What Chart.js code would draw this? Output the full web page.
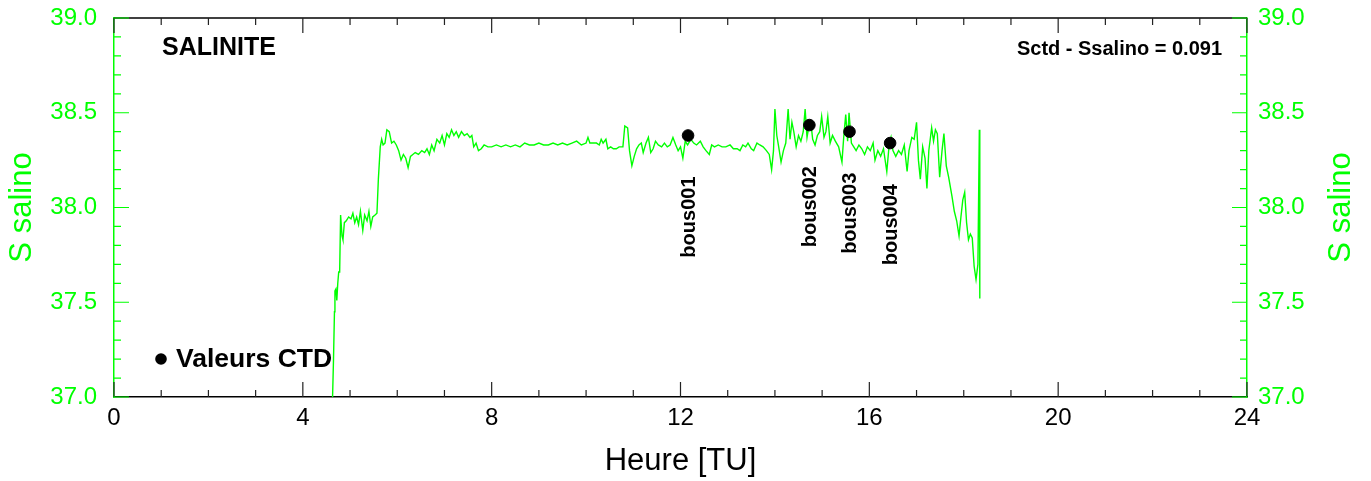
<!DOCTYPE html>
<html>
<head>
    <title>SALINITE</title>
    <script src="https://cdn.jsdelivr.net/npm/chart.js"></script>
    <style>
        html, body { margin: 0; padding: 0; background: #fff; }
        .container { width: 1371px; height: 481px; position: relative; }
    </style>
</head>
<body>
    <div class="container">
        <canvas id="salChart"></canvas>
    </div>

    <script>
        // thermosalinograph track (hour, salinity)
        const hours = [
            4.63, 4.65, 4.67, 4.68, 4.70, 4.72, 4.74, 4.76, 4.78, 4.80, 4.83, 4.85, 4.88, 4.92, 4.97,
            5.02, 5.06, 5.10, 5.14, 5.18, 5.22, 5.27, 5.31, 5.36, 5.40, 5.44, 5.48, 5.53, 5.57, 5.60,
            5.64, 5.67, 5.70, 5.74, 5.78, 5.83, 5.88, 5.93, 5.98, 6.03, 6.08, 6.13, 6.18, 6.23, 6.28,
            6.33, 6.38, 6.45, 6.52, 6.58, 6.63, 6.68, 6.73, 6.78, 6.84, 6.90, 6.95, 7.00, 7.05, 7.10,
            7.15, 7.20, 7.25, 7.30, 7.36, 7.42, 7.48, 7.54, 7.58, 7.62, 7.67, 7.72, 7.78, 7.84, 7.92,
            8.00, 8.10, 8.20, 8.30, 8.40, 8.50, 8.60, 8.70, 8.80, 8.90, 9.00, 9.10, 9.20, 9.30, 9.40,
            9.50, 9.60, 9.70, 9.80, 9.90, 10.00, 10.04, 10.08, 10.15, 10.22, 10.28, 10.32, 10.36, 10.42, 10.46,
            10.52, 10.58, 10.64, 10.70, 10.78, 10.82, 10.88, 10.92, 10.97, 11.02, 11.07, 11.12, 11.17, 11.21, 11.27,
            11.32, 11.37, 11.42, 11.47, 11.53, 11.60, 11.66, 11.72, 11.78, 11.84, 11.90, 11.95, 12.00, 12.05, 12.10,
            12.15, 12.22, 12.28, 12.34, 12.42, 12.48, 12.54, 12.61, 12.66, 12.72, 12.80, 12.88, 12.96, 13.05, 13.12,
            13.20, 13.26, 13.32, 13.38, 13.43, 13.50, 13.55, 13.62, 13.68, 13.75, 13.82, 13.88, 13.93, 13.97, 14.00,
            14.04, 14.08, 14.13, 14.18, 14.23, 14.28, 14.32, 14.36, 14.40, 14.45, 14.50, 14.55, 14.60, 14.64, 14.68,
            14.72, 14.76, 14.80, 14.85, 14.90, 14.95, 14.99, 15.04, 15.08, 15.12, 15.17, 15.22, 15.28, 15.35, 15.42,
            15.46, 15.50, 15.54, 15.57, 15.62, 15.67, 15.72, 15.78, 15.84, 15.90, 15.96, 16.02, 16.08, 16.12, 16.18,
            16.24, 16.30, 16.37, 16.42, 16.46, 16.50, 16.56, 16.62, 16.68, 16.74, 16.80, 16.84, 16.90, 16.95, 17.00,
            17.04, 17.08, 17.13, 17.18, 17.22, 17.26, 17.32, 17.36, 17.40, 17.44, 17.49, 17.54, 17.58, 17.63, 17.68,
            17.75, 17.80, 17.85, 17.90, 17.94, 17.98, 18.02, 18.06, 18.10, 18.14, 18.18, 18.22, 18.26, 18.30, 18.33,
            18.34
        ];
        const salinity = [
            37.00, 37.20, 37.45, 37.56, 37.57, 37.51, 37.60, 37.66, 37.66, 37.96, 37.85, 37.83, 37.92, 37.93, 37.95,
            37.94, 37.97, 37.92, 37.95, 37.91, 37.98, 37.88, 37.96, 37.93, 37.98, 37.90, 37.95, 37.96, 37.97, 38.15,
            38.32, 38.36, 38.33, 38.34, 38.41, 38.40, 38.34, 38.35, 38.33, 38.30, 38.25, 38.28, 38.26, 38.21, 38.27,
            38.28, 38.29, 38.28, 38.30, 38.29, 38.31, 38.28, 38.33, 38.30, 38.36, 38.34, 38.38, 38.33, 38.39, 38.37,
            38.41, 38.38, 38.40, 38.37, 38.40, 38.38, 38.39, 38.37, 38.38, 38.32, 38.34, 38.30, 38.31, 38.33, 38.32,
            38.32, 38.33, 38.32, 38.33, 38.32, 38.33, 38.32, 38.34, 38.33, 38.33, 38.34, 38.33, 38.33, 38.34, 38.33,
            38.34, 38.33, 38.34, 38.35, 38.33, 38.34, 38.37, 38.34, 38.34, 38.34, 38.33, 38.36, 38.34, 38.36, 38.31,
            38.32, 38.31, 38.31, 38.32, 38.32, 38.43, 38.42, 38.30, 38.22, 38.27, 38.31, 38.33, 38.34, 38.29, 38.34,
            38.37, 38.29, 38.31, 38.35, 38.33, 38.32, 38.34, 38.32, 38.33, 38.37, 38.33, 38.30, 38.32, 38.26, 38.35,
            38.33, 38.36, 38.34, 38.33, 38.35, 38.32, 38.30, 38.28, 38.33, 38.32, 38.33, 38.32, 38.32, 38.33, 38.31,
            38.31, 38.30, 38.33, 38.32, 38.34, 38.31, 38.30, 38.34, 38.33, 38.32, 38.30, 38.28, 38.20, 38.30, 38.52,
            38.38, 38.32, 38.24, 38.30, 38.34, 38.52, 38.36, 38.45, 38.40, 38.32, 38.38, 38.35, 38.40, 38.52, 38.37,
            38.43, 38.45, 38.36, 38.33, 38.38, 38.40, 38.48, 38.37, 38.40, 38.48, 38.34, 38.38, 38.35, 38.32, 38.24,
            38.38, 38.49, 38.35, 38.50, 38.34, 38.32, 38.30, 38.33, 38.31, 38.28, 38.32, 38.30, 38.34, 38.25, 38.30,
            38.27, 38.31, 38.19, 38.33, 38.37, 38.30, 38.27, 38.30, 38.28, 38.33, 38.19, 38.30, 38.37, 38.36, 38.45,
            38.25, 38.15, 38.32, 38.26, 38.10, 38.30, 38.42, 38.35, 38.41, 38.39, 38.16, 38.30, 38.39, 38.22, 38.16,
            38.06, 37.98, 37.93, 37.85, 37.95, 38.04, 38.08, 37.92, 37.83, 37.86, 37.84, 37.69, 37.62, 37.70, 38.41,
            37.52
        ];

        // CTD stations
        const ctdLabels = ['bous001', 'bous002', 'bous003', 'bous004'];
        const ctdHours = [12.16, 14.73, 15.58, 16.44];
        const ctdValues = [38.38, 38.435, 38.40, 38.34];

        const xTicks = [0, 4, 8, 12, 16, 20, 24];
        const yTicks = [37.0, 37.5, 38.0, 38.5, 39.0];

        const GREEN = '#00ff00';
        const FONT = "'Liberation Sans', Arial, Helvetica, sans-serif";

        const framePlugin = {
            id: 'frame',
            afterDraw(chart) {
                const ctx = chart.ctx;
                const area = chart.chartArea;
                const xs = chart.scales.x;
                const ys = chart.scales.y;
                ctx.save();

                // top border
                ctx.strokeStyle = '#000';
                ctx.lineWidth = 1.5;
                ctx.beginPath();
                ctx.moveTo(area.left, area.top);
                ctx.lineTo(area.right, area.top);
                ctx.stroke();

                // inward ticks on x (bottom and top)
                ctx.strokeStyle = '#222';
                ctx.lineWidth = 1.2;
                for (let h = 0; h <= 24; h++) {
                    const px = xs.getPixelForValue(h);
                    const len = h % 4 === 0 ? 15 : 7;
                    ctx.beginPath();
                    ctx.moveTo(px, area.bottom);
                    ctx.lineTo(px, area.bottom - len);
                    ctx.moveTo(px, area.top);
                    ctx.lineTo(px, area.top + len);
                    ctx.stroke();
                }

                // inward ticks on y (left and right)
                ctx.strokeStyle = GREEN;
                for (let i = 0; i <= 20; i++) {
                    const py = ys.getPixelForValue(37 + i * 0.1);
                    const len = i % 5 === 0 ? 15 : 7;
                    ctx.beginPath();
                    ctx.moveTo(area.left, py);
                    ctx.lineTo(area.left + len, py);
                    ctx.moveTo(area.right, py);
                    ctx.lineTo(area.right - len, py);
                    ctx.stroke();
                }

                // station names under the CTD dots
                ctx.fillStyle = '#000';
                ctx.font = 'bold 20px ' + FONT;
                ctx.textAlign = 'right';
                ctx.textBaseline = 'middle';
                ctdLabels.forEach((name, i) => {
                    const px = xs.getPixelForValue(ctdHours[i]) + 1;
                    const py = ys.getPixelForValue(ctdValues[i]) + 41;
                    ctx.save();
                    ctx.translate(px, py);
                    ctx.rotate(-Math.PI / 2);
                    ctx.fillText(name, 0, 0);
                    ctx.restore();
                });

                // titles and annotation
                ctx.textAlign = 'left';
                ctx.font = 'bold 25px ' + FONT;
                ctx.fillText('SALINITE', area.left + 48, area.top + 30);
                ctx.textAlign = 'right';
                ctx.font = 'bold 20px ' + FONT;
                ctx.fillText('Sctd - Ssalino = 0.091', area.right - 25, area.top + 31);

                // legend
                ctx.beginPath();
                ctx.arc(area.left + 47, area.bottom - 38, 5.8, 0, Math.PI * 2);
                ctx.fill();
                ctx.textAlign = 'left';
                ctx.font = 'bold 26.5px ' + FONT;
                ctx.fillText('Valeurs CTD', area.left + 62, area.bottom - 37);

                // right axis title (reads upward like the left one)
                ctx.fillStyle = GREEN;
                ctx.font = '31px ' + FONT;
                ctx.textAlign = 'center';
                ctx.save();
                ctx.translate(chart.width - 30, (area.top + area.bottom) / 2);
                ctx.rotate(-Math.PI / 2);
                ctx.fillText('S salino', 0, 0);
                ctx.restore();

                ctx.restore();
            }
        };

        function yAxis(position, width, pad) {
            return {
                type: 'linear',
                position: position,
                min: 37,
                max: 39,
                afterBuildTicks: scale => { scale.ticks = yTicks.map(v => ({ value: v })); },
                afterFit: scale => {
                    scale.width = width;
                    scale.paddingTop = 0;
                    scale.paddingBottom = 0;
                },
                grid: { display: false, drawTicks: false },
                border: { display: true, color: GREEN, width: 1.5 },
                ticks: {
                    color: GREEN,
                    padding: pad,
                    font: { family: FONT, size: 24 },
                    callback: v => v.toFixed(1)
                },
                title: {
                    display: position === 'left',
                    text: 'S salino',
                    color: GREEN,
                    font: { family: FONT, size: 31 },
                    padding: { top: 4, bottom: 0 }
                }
            };
        }

        function createChart() {
            const ctx = document.getElementById('salChart').getContext('2d');
            new Chart(ctx, {
                type: 'scatter',
                data: {
                    datasets: [{
                        label: 'S salino',
                        data: hours.map((h, i) => ({ x: h, y: salinity[i] })),
                        showLine: true,
                        borderColor: GREEN,
                        borderWidth: 1.4,
                        pointRadius: 0,
                        tension: 0,
                        order: 2
                    }, {
                        label: 'Valeurs CTD',
                        data: ctdHours.map((h, i) => ({ x: h, y: ctdValues[i] })),
                        showLine: false,
                        pointRadius: 5.8,
                        backgroundColor: '#000',
                        borderColor: '#000',
                        order: 1
                    }]
                },
                options: {
                    responsive: true,
                    maintainAspectRatio: false,
                    animation: false,
                    layout: { padding: { top: 18 } },
                    plugins: { legend: { display: false }, tooltip: { enabled: false } },
                    scales: {
                        x: {
                            type: 'linear',
                            min: 0,
                            max: 24,
                            afterBuildTicks: scale => { scale.ticks = xTicks.map(v => ({ value: v })); },
                            afterFit: scale => {
                                scale.height = 84;
                                scale.paddingLeft = 0;
                                scale.paddingRight = 0;
                            },
                            grid: { display: false, drawTicks: false },
                            border: { display: true, color: '#000', width: 1.5 },
                            ticks: {
                                color: '#000',
                                padding: 7,
                                font: { family: FONT, size: 24 },
                                maxRotation: 0
                            },
                            title: {
                                display: true,
                                text: 'Heure [TU]',
                                color: '#000',
                                font: { family: FONT, size: 31 },
                                padding: { top: 0, bottom: 1 }
                            }
                        },
                        y: yAxis('left', 114, 17),
                        y2: yAxis('right', 124, 11)
                    }
                },
                plugins: [framePlugin]
            });
        }

        createChart();
    </script>
</body>
</html>
